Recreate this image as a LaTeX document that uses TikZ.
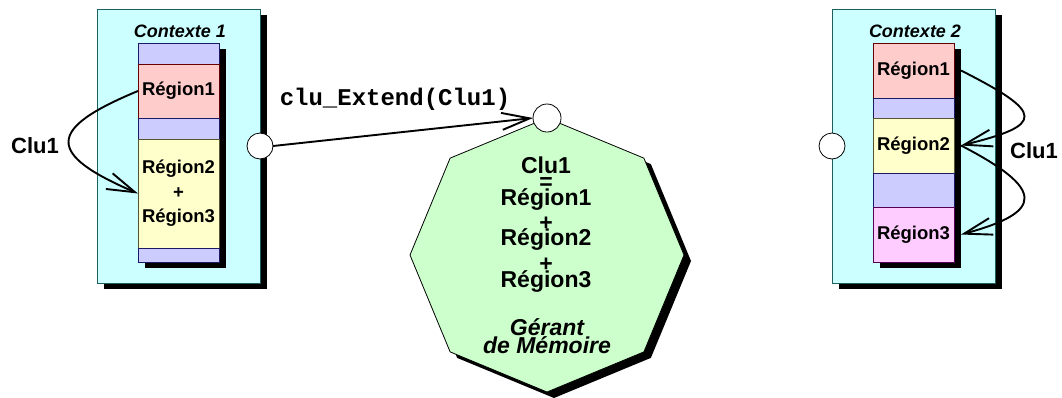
\documentclass[tikz,border=0pt]{standalone}
\usepackage{fontspec}
\setmainfont{Liberation Sans}
\setmonofont{Liberation Mono}
\usetikzlibrary{arrows.meta,shapes.geometric,shadows}
\definecolor{ctxfill}{HTML}{CCFFFF}
\definecolor{ctxline}{HTML}{1F5F5F}
\definecolor{lav}{HTML}{CCCCFF}
\definecolor{lavline}{HTML}{1A1A66}
\definecolor{redf}{HTML}{FFCCCC}
\definecolor{redline}{HTML}{660000}
\definecolor{yelf}{HTML}{FFFFCC}
\definecolor{yelline}{HTML}{555533}
\definecolor{pinkf}{HTML}{FFCCFF}
\definecolor{pinkline}{HTML}{550055}
\definecolor{greenf}{HTML}{CCFFCC}
\tikzset{
  shad/.style={drop shadow={opacity=1, fill=black, shadow xshift=7pt, shadow yshift=-6pt}},
  ctx/.style={draw=ctxline, fill=ctxfill, line width=0.8pt, minimum width=163pt, minimum height=274pt, inner sep=0pt, outer sep=0pt, anchor=north west, shad},
  colframe/.style={draw=lavline, line width=0.8pt, minimum width=81pt, minimum height=219pt, inner sep=0pt, outer sep=0pt, anchor=north west, shad, fill=lav},
  band/.style={line width=0.8pt, minimum width=81pt, inner sep=0pt, outer sep=0pt, anchor=north west, align=center, font=\fontsize{18.5}{24.5}\selectfont\bfseries},
  port/.style={circle, draw=black, fill=white, line width=0.8pt, minimum size=26pt, inner sep=0pt, outer sep=0pt},
  conn/.style={line width=1.9pt, -{Straight Barb[length=28pt,width=17pt]}},
  ctxlabel/.style={anchor=base, inner sep=0pt, font=\fontsize{18}{20}\selectfont\bfseries\itshape},
  clulabel/.style={anchor=base, inner sep=0pt, font=\fontsize{22}{24}\selectfont\bfseries},
  octtext/.style={anchor=base, inner sep=0pt, font=\fontsize{23}{23}\selectfont\bfseries},
  octital/.style={anchor=base, inner sep=0pt, font=\fontsize{23}{23}\selectfont\bfseries\itshape},
}
\begin{document}
\begin{tikzpicture}[x=1pt,y=-1pt]
\useasboundingbox (0,0) rectangle (1062,397);

% Context 1
\node[ctx] (ctx1) at (97,9) {};
\node[ctxlabel] (lab1) at (180,37) {Contexte 1};
\node[colframe] (col1) at (138,43) {};
\node[band, draw=lavline, fill=lav, minimum height=21pt] (b1a) at (138,43) {};
\node[band, draw=redline, fill=redf, minimum height=54pt] (r1a) at (138,64) {Région1};
\node[band, draw=lavline, fill=lav, minimum height=21pt] (b2a) at (138,118) {};
\node[band, draw=yelline, fill=yelf, minimum height=109pt] (r23a) at (138,139) {Région2\\+\\Région3};
\node[band, draw=lavline, fill=lav, minimum height=14pt] (b3a) at (138,248) {};
\node[port] (port1) at (260,146) {};
\node[clulabel] (clu1a) at (35,153) {Clu1};

% Context 2
\node[ctx] (ctx2) at (832,9) {};
\node[ctxlabel] (lab2) at (915,37) {Contexte 2};
\node[colframe] (col2) at (873,43) {};
\node[band, draw=redline, fill=redf, minimum height=55pt] (r1b) at (873,43) {Région1};
\node[band, draw=lavline, fill=lav, minimum height=20pt] (b1b) at (873,98) {};
\node[band, draw=yelline, fill=yelf, minimum height=55pt] (r2b) at (873,118) {Région2};
\node[band, draw=lavline, fill=lav, minimum height=34pt] (b2b) at (873,173) {};
\node[band, draw=pinkline, fill=pinkf, minimum height=55pt] (r3b) at (873,207) {Région3};
\node[port] (port2) at (832,146) {};
\node[clulabel] (clu1b) at (1034,158) {Clu1};

% Memory manager
\node[regular polygon, regular polygon sides=8, shape border rotate=22.5, minimum size=274pt, inner sep=0pt, draw=black, line width=0.8pt, fill=greenf, shad] (gm) at (547,255) {};
\node[port, minimum size=28pt] (portgm) at (547,118) {};
\foreach \t/\y/\n in {Clu1/173/o1, =/189/o2, Région1/205/o3, +/230/o4, Région2/245/o5, +/271/o6, Région3/287/o7}
  \node[octtext] (\n) at (546,\y) {\t};
\node[octital] (g1) at (547,335) {Gérant};
\node[octital] (g2) at (547,353) {de Mémoire};

% Connectors
\node[anchor=base, inner sep=0pt, font=\fontsize{24}{24}\selectfont\ttfamily\bfseries] (ext) at (395,105) {clu\_Extend(Clu1)};
\draw[conn] (port1.east) -- (portgm.west);
\draw[conn] (r1a.west) .. controls (46,129) and (46,154) .. (r23a.west);
\draw[conn] ([xshift=7pt]r1b.east) .. controls (1045,113) and (1045,125) .. ([xshift=7pt]r2b.east);
\draw[conn] ([xshift=7pt]r2b.east) .. controls (1045,189) and (1045,212) .. ([xshift=7pt]r3b.east);
\end{tikzpicture}
\end{document}
